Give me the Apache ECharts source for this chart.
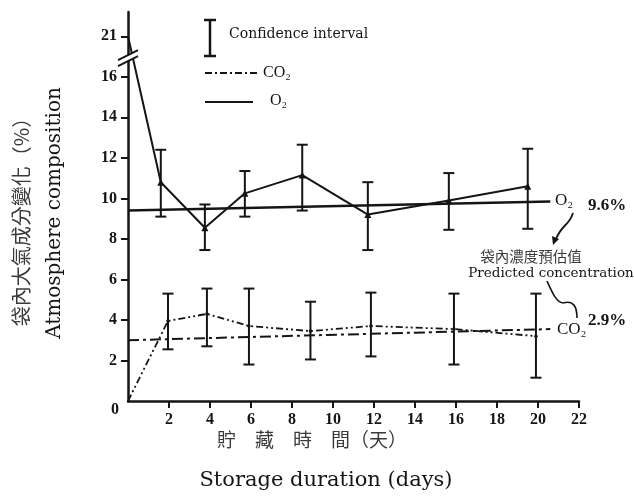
<!DOCTYPE html>
<html><head><meta charset="utf-8">
<script src="https://cdn.jsdelivr.net/npm/echarts@6/dist/echarts.min.js"></script>
<style>html,body{margin:0;padding:0;background:#fff}#c{width:634px;height:504px}</style>
</head><body><div id="c"></div>
<script>
// ---- data ----
const xTickValues = [2, 4, 6, 8, 10, 12, 14, 16, 18, 20, 22];
const yTickValues = [2, 4, 6, 8, 10, 12, 14, 16, 21];
const o2Days   = [0, 1.6, 3.75, 5.7, 8.5, 11.7, 15.65, 19.5];
const o2Values = [21, 10.8, 8.55, 10.25, 11.15, 9.2, 9.9, 10.6];
const o2Low    = [null, 9.1, 7.45, 9.1, 9.4, 7.45, 8.45, 8.5];
const o2High   = [null, 12.4, 9.7, 11.35, 12.65, 10.8, 11.25, 12.45];
const co2Days   = [0, 1.95, 3.85, 5.9, 8.9, 11.85, 15.9, 19.9];
const co2Values = [0, 3.95, 4.3, 3.7, 3.45, 3.7, 3.55, 3.2];
const co2Low    = [null, 2.55, 2.7, 1.8, 2.05, 2.2, 1.8, 1.15];
const co2High   = [null, 5.3, 5.55, 5.55, 4.9, 5.35, 5.3, 5.3];
const predDays = [0, 20.6];
const o2Pred   = [9.4, 9.85];
const co2Pred  = [3.0, 3.55];

// broken y axis: values between 17 and 20 are cut out
const BREAK_LO = 17, BREAK_HI = 20, BREAK_CUT = BREAK_HI - BREAK_LO;
const toAxis = v => (v >= BREAK_HI ? v - BREAK_CUT : v);
const fromAxis = d => (d > BREAK_LO ? d + BREAK_CUT : d);

const INK = '#151515';
const SERIF = '"Liberation Serif", "DejaVu Serif", serif';
const WSERIF = '"DejaVu Serif", serif';
const CJK = '"Noto Sans CJK TC", "Noto Sans CJK SC", sans-serif';

function pairs(days, vals) { return days.map((d, i) => [d, toAxis(vals[i])]); }
function errData(days, lo, hi) {
  const out = [];
  days.forEach((d, i) => { if (lo[i] != null) out.push([d, toAxis(lo[i]), toAxis(hi[i])]); });
  return out;
}
function errSeries(name, days, lo, hi) {
  return {
    name, type: 'custom', silent: true, z: 4,
    data: errData(days, lo, hi),
    encode: { x: 0, y: [1, 2] },
    renderItem(params, api) {
      const x = api.value(0);
      const a = api.coord([x, api.value(1)]);
      const b = api.coord([x, api.value(2)]);
      const w = 5.5;
      const st = { stroke: INK, lineWidth: 2 };
      return { type: 'group', children: [
        { type: 'line', shape: { x1: a[0], y1: a[1], x2: b[0], y2: b[1] }, style: st },
        { type: 'line', shape: { x1: a[0] - w, y1: a[1], x2: a[0] + w, y2: a[1] }, style: st },
        { type: 'line', shape: { x1: b[0] - w, y1: b[1], x2: b[0] + w, y2: b[1] }, style: st }
      ]};
    }
  };
}

const o2Data = pairs(o2Days, o2Values).map((p, i) => i === 0 ? { value: p, symbol: 'none' } : p);
const co2Data = pairs(co2Days, co2Values).map((p, i) => i === 0 ? { value: p, symbol: 'none' } : p);

const chart = echarts.init(document.getElementById('c'));
const option = {
  backgroundColor: '#fff',
  animation: false,
  grid: { left: 128, right: 55, top: 12, bottom: 103 },
  xAxis: {
    type: 'value', min: 0, max: 22, interval: 2,
    axisLine: { lineStyle: { color: INK, width: 2.5 } },
    axisTick: { customValues: xTickValues, length: 7, lineStyle: { color: INK, width: 2 } },
    axisLabel: { customValues: xTickValues, margin: 11, color: INK, fontFamily: SERIF, fontSize: 16, fontWeight: 'bold' },
    splitLine: { show: false }
  },
  yAxis: {
    type: 'value', min: 0, max: 19.2,
    axisLine: { show: true, lineStyle: { color: INK, width: 2.5 } },
    axisTick: { show: true, customValues: yTickValues.map(toAxis), length: 7, lineStyle: { color: INK, width: 2 } },
    axisLabel: { customValues: yTickValues.map(toAxis), margin: 11, color: INK, fontFamily: SERIF, fontSize: 16, fontWeight: 'bold',
      formatter: v => String(Math.round(fromAxis(v))) },
    splitLine: { show: false }
  },
  series: [
    { name: 'O2 predicted', type: 'line', data: pairs(predDays, o2Pred), symbol: 'none', z: 2,
      lineStyle: { color: INK, width: 2.5 } },
    { name: 'CO2 predicted', type: 'line', data: pairs(predDays, co2Pred), symbol: 'none', z: 2,
      lineStyle: { color: INK, width: 2, type: [11, 4, 3, 4] } },
    { name: 'O2', type: 'line', data: o2Data, symbol: 'triangle', symbolSize: 7, z: 3,
      itemStyle: { color: INK }, lineStyle: { color: INK, width: 2 } },
    { name: 'CO2', type: 'line', data: co2Data, symbol: 'circle', symbolSize: 3.5, z: 3,
      itemStyle: { color: INK }, lineStyle: { color: INK, width: 1.8, type: [7, 3, 2, 3, 2, 3] } },
    errSeries('O2 CI', o2Days, o2Low, o2High),
    errSeries('CO2 CI', co2Days, co2Low, co2High)
  ]
};
chart.setOption(option);

// break marks on the y axis
const bp = chart.convertToPixel({ gridIndex: 0 }, [0, BREAK_LO]);
const bx = bp[0], by = bp[1] + 2;

chart.setOption({
  graphic: [
    // axis break
    { type: 'polygon', z: 100, shape: { points: [[bx - 9, by + 1], [bx + 9, by - 8], [bx + 9, by - 2], [bx - 9, by + 7]] }, style: { fill: '#fff' } },
    { type: 'line', z: 101, shape: { x1: bx - 10, y1: by + 1.5, x2: bx + 10, y2: by - 8.5 }, style: { stroke: INK, lineWidth: 2 } },
    { type: 'line', z: 101, shape: { x1: bx - 10, y1: by + 7.5, x2: bx + 10, y2: by - 2.5 }, style: { stroke: INK, lineWidth: 2 } },
    // origin label
    { type: 'text', z: 100, x: 115, y: 410, style: { text: '0', font: 'bold 16px ' + SERIF, fill: INK, align: 'center', verticalAlign: 'middle' } },
    // axis titles
    { type: 'text', z: 100, x: 21, y: 217, rotation: Math.PI / 2, style: { text: '袋內大氣成分變化（%）', font: '20px ' + CJK, fill: '#3a3a3a', align: 'center', verticalAlign: 'middle' } },
    { type: 'text', z: 100, x: 55, y: 213, rotation: Math.PI / 2, style: { text: 'Atmosphere composition', font: '20px ' + WSERIF, fill: INK, align: 'center', verticalAlign: 'middle' } },
    { type: 'text', z: 100, x: 312, y: 440, style: { text: '貯　藏　時　間（天）', font: '19px ' + CJK, fill: '#3a3a3a', align: 'center', verticalAlign: 'middle' } },
    { type: 'text', z: 100, x: 326, y: 481, style: { text: 'Storage duration (days)', font: '21px ' + WSERIF, fill: INK, align: 'center', verticalAlign: 'middle' } },
    // legend
    { type: 'line', z: 100, shape: { x1: 210, y1: 20, x2: 210, y2: 56 }, style: { stroke: INK, lineWidth: 2.5 } },
    { type: 'line', z: 100, shape: { x1: 204, y1: 20, x2: 216, y2: 20 }, style: { stroke: INK, lineWidth: 2.5 } },
    { type: 'line', z: 100, shape: { x1: 204, y1: 56, x2: 216, y2: 56 }, style: { stroke: INK, lineWidth: 2.5 } },
    { type: 'text', z: 100, x: 229, y: 34, style: { text: 'Confidence interval', font: '14px ' + WSERIF, fill: INK, align: 'left', verticalAlign: 'middle' } },
    { type: 'line', z: 100, shape: { x1: 205, y1: 73, x2: 257, y2: 73 }, style: { stroke: INK, lineWidth: 1.8, lineDash: [7, 3, 2, 3] } },
    { type: 'text', z: 100, x: 263, y: 73, style: { text: 'CO₂', font: '16px ' + SERIF, fill: INK, align: 'left', verticalAlign: 'middle' } },
    { type: 'line', z: 100, shape: { x1: 205, y1: 102, x2: 253, y2: 102 }, style: { stroke: INK, lineWidth: 2 } },
    { type: 'text', z: 100, x: 270, y: 101, style: { text: 'O₂', font: '16px ' + SERIF, fill: INK, align: 'left', verticalAlign: 'middle' } },
    // right annotations
    { type: 'text', z: 100, x: 555, y: 201, style: { text: 'O₂', font: '17px ' + SERIF, fill: INK, align: 'left', verticalAlign: 'middle' } },
    { type: 'text', z: 100, x: 588, y: 206, style: { text: '9.6%', font: 'bold 17px ' + SERIF, fill: INK, align: 'left', verticalAlign: 'middle' } },
    { type: 'text', z: 100, x: 531, y: 256, style: { text: '袋內濃度預估值', font: '14.5px ' + CJK, fill: '#3a3a3a', align: 'center', verticalAlign: 'middle' } },
    { type: 'text', z: 100, x: 551, y: 273, style: { text: 'Predicted concentration', font: '13.5px ' + WSERIF, fill: INK, align: 'center', verticalAlign: 'middle' } },
    { type: 'text', z: 100, x: 557, y: 330, style: { text: 'CO₂', font: '17px ' + SERIF, fill: INK, align: 'left', verticalAlign: 'middle' } },
    { type: 'text', z: 100, x: 588, y: 321, style: { text: '2.9%', font: 'bold 17px ' + SERIF, fill: INK, align: 'left', verticalAlign: 'middle' } },
    // leader curves
    { type: 'bezierCurve', z: 100, shape: { x1: 573, y1: 213, cpx1: 569, cpy1: 226, cpx2: 562, cpy2: 224, x2: 556, y2: 239 }, style: { stroke: INK, lineWidth: 1.8, fill: null } },
    { type: 'polygon', z: 100, shape: { points: [[553, 245], [552, 236], [559, 239]] }, style: { fill: INK } },
    { type: 'bezierCurve', z: 100, shape: { x1: 547, y1: 281, cpx1: 552, cpy1: 292, cpx2: 556, cpy2: 302, x2: 563, y2: 303 }, style: { stroke: INK, lineWidth: 1.6, fill: null } },
    { type: 'bezierCurve', z: 100, shape: { x1: 563, y1: 303, cpx1: 573, cpy1: 300, cpx2: 577, cpy2: 306, x2: 577, y2: 318 }, style: { stroke: INK, lineWidth: 1.6, fill: null } }
  ]
});
</script></body></html>
